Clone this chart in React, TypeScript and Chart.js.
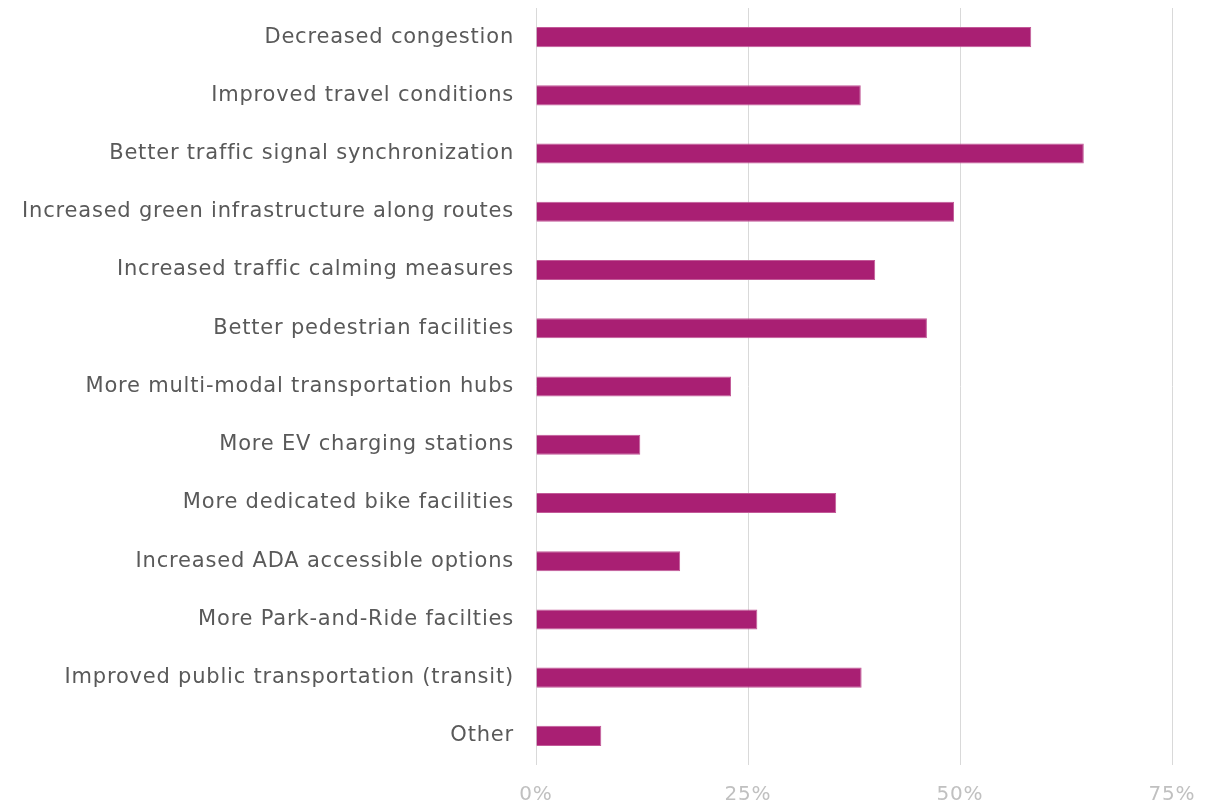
import React, { useEffect, useRef } from "react";
import { Chart, registerables } from "chart.js";

Chart.register(...registerables);

const categories = [
  "Decreased congestion",
  "Improved travel conditions",
  "Better traffic signal synchronization",
  "Increased green infrastructure along routes",
  "Increased traffic calming measures",
  "Better pedestrian facilities",
  "More multi-modal transportation hubs",
  "More EV charging stations",
  "More dedicated bike facilities",
  "Increased ADA accessible options",
  "More Park-and-Ride facilties",
  "Improved public transportation (transit)",
  "Other",
];

const values = [58.4, 38.3, 64.6, 49.3, 40.0, 46.1, 23.0, 12.3, 35.4, 17.0, 26.1, 38.4, 7.7];

const xTicks = [0, 25, 50, 75];

const FONT = "'DejaVu Sans', sans-serif";

const spacingPlugin = {
  id: "letterSpacing",
  beforeDraw(chart: any) {
    chart.ctx.letterSpacing = "0.8px";
  },
};

export default function App() {
  const ref = useRef<HTMLCanvasElement | null>(null);

  useEffect(() => {
    document.body.style.margin = "0";
    const canvas = ref.current;
    if (!canvas) return;
    const chart = new Chart(canvas, {
      type: "bar",
      data: {
        labels: categories,
        datasets: [
          {
            data: values,
            backgroundColor: "#A91F73",
            borderColor: "#C25A98",
            borderWidth: 1,
            barPercentage: 0.345,
            categoryPercentage: 1,
          },
        ],
      },
      plugins: [spacingPlugin],
      options: {
        indexAxis: "y",
        animation: false,
        responsive: false,
        maintainAspectRatio: false,
        layout: { padding: { top: 8, right: 45, left: 0, bottom: 0 } },
        plugins: { legend: { display: false }, tooltip: { enabled: false } },
        scales: {
          x: {
            min: 0,
            max: 75,
            afterBuildTicks: (scale: any) => {
              scale.ticks = xTicks.map((v) => ({ value: v }));
            },
            ticks: {
              callback: (v: any) => v + "%",
              color: "#C0C0C0",
              font: { family: FONT, size: 20 },
              padding: 18,
            },
            grid: { color: "#D9D9D9", lineWidth: 1, drawTicks: false },
            border: { display: false },
            afterFit: (scale: any) => {
              scale.height = 40;
            },
          },
          y: {
            ticks: {
              color: "#595959",
              font: { family: FONT, size: 21 },
              padding: 22,
            },
            grid: { display: false, drawTicks: false },
            border: { display: false },
            afterFit: (scale: any) => {
              scale.width = 536;
              scale.paddingTop = 0;
              scale.paddingBottom = 0;
            },
          },
        },
      },
    });
    return () => chart.destroy();
  }, []);

  return (
    <div style={{ width: 1217, height: 805 }}>
      <canvas ref={ref} width={1217} height={805} />
    </div>
  );
}
